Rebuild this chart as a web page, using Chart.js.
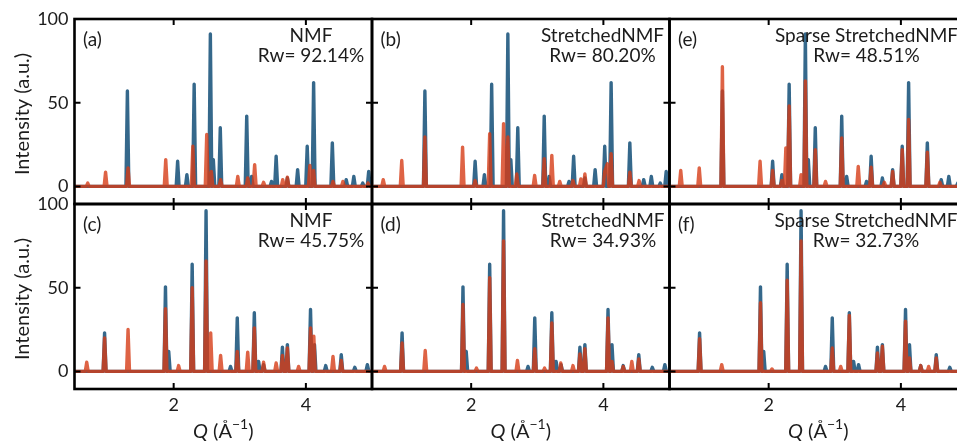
<!DOCTYPE html>
<html>
<head>
<meta charset="utf-8">
<script src="https://cdn.jsdelivr.net/npm/chart.js@4/dist/chart.umd.min.js"></script>
<style>
  html, body { margin: 0; padding: 0; background: #fff; width: 957px; height: 445px; overflow: hidden; }
  canvas { position: absolute; left: 0; top: 0; }
</style>
</head>
<body>
<script>
// ---- axis ranges and tick values ----
const qRange = [0.5, 5.0];
const intensityRange = [-10.5, 100];
const qTicks = [2, 4];
const intensityTicks = [0, 50, 100];

// ---- measured patterns: peak position Q (1/Å) and peak intensity (a.u.) ----
// target pattern, upper row
const targetUpper = [
  [1.30, 57], [2.06, 15], [2.20, 7], [2.31, 61], [2.555, 91], [2.60, 16], [2.705, 35],
  [3.105, 42], [3.18, 6], [3.48, 3], [3.55, 18], [3.72, 5], [3.875, 10], [4.02, 24],
  [4.117, 62], [4.40, 26], [4.61, 4], [4.725, 6], [4.86, 2], [4.95, 9]
];
// target pattern, lower row
const targetLower = [
  [0.955, 23], [1.876, 50.5], [1.925, 12], [2.28, 64], [2.49, 96], [2.86, 3], [2.962, 32],
  [3.22, 35], [3.285, 6], [3.36, 4], [3.645, 14.5], [3.72, 16], [4.07, 37], [4.13, 16],
  [4.30, 3.5], [4.535, 10], [4.74, 2.5], [4.93, 4]
];
// reconstructions
const fitA = [
  [0.70, 2], [0.97, 8.5], [1.31, 11], [1.88, 16], [2.29, 24], [2.50, 31], [2.57, 9],
  [2.71, 4], [2.97, 6], [3.12, 5], [3.225, 13], [3.36, 2.5], [3.65, 4], [3.72, 5.5],
  [4.06, 12.5], [4.117, 9.5], [4.41, 3], [4.56, 3], [4.94, 2]
];
const fitB = [
  [0.67, 4], [0.95, 15.5], [1.30, 29.5], [1.87, 23.5], [2.06, 3.5], [2.28, 31.5],
  [2.49, 37.5], [2.555, 29.5], [2.69, 7.5], [2.96, 6.5], [3.105, 16.5], [3.22, 18.5],
  [3.34, 3], [3.54, 3.5], [3.66, 4.5], [3.72, 7.5], [4.02, 9], [4.06, 13.5],
  [4.117, 19.5], [4.40, 8.5], [4.54, 3.5]
];
const fitE = [
  [0.67, 9.5], [0.95, 11], [1.30, 71.5], [1.87, 15], [2.06, 9.5], [2.20, 3.5], [2.26, 23],
  [2.31, 48], [2.49, 7], [2.555, 63], [2.705, 22], [2.86, 3], [3.105, 29], [3.355, 12],
  [3.55, 11.5], [3.75, 2.5], [3.875, 9], [4.02, 22], [4.117, 40], [4.40, 20.5], [4.59, 2.5]
];
const fitC = [
  [0.685, 5.5], [0.955, 20], [1.31, 25], [1.876, 37.5], [2.075, 3.5], [2.28, 50], [2.49, 66],
  [2.56, 23], [2.71, 9.5], [2.962, 12], [3.12, 11.5], [3.22, 26], [3.36, 5.5], [3.55, 5],
  [3.645, 9.5], [3.72, 14], [3.89, 3], [4.07, 26], [4.12, 21], [4.41, 9], [4.535, 6.5]
];
const fitD = [
  [0.69, 3], [0.955, 17], [1.305, 12.5], [1.876, 40], [2.08, 2], [2.28, 56], [2.49, 78],
  [2.70, 6.5], [2.962, 13.5], [3.11, 2], [3.22, 29], [3.355, 5], [3.54, 3.5], [3.645, 10.5],
  [3.72, 13.5], [4.07, 32], [4.13, 6], [4.30, 3], [4.43, 6], [4.535, 7.5]
];
const fitF = [
  [0.955, 19.5], [1.29, 4], [1.876, 41], [2.05, 1.5], [2.28, 54.5], [2.49, 78], [2.962, 14],
  [3.09, 3], [3.22, 33.5], [3.645, 11], [3.72, 15], [4.07, 30], [4.13, 8], [4.30, 3.5],
  [4.42, 3], [4.535, 8]
];

// ---- panel captions ----
const panelTags = ['(a)', '(b)', '(e)', '(c)', '(d)', '(f)'];
const methodNames = ['NMF', 'StretchedNMF', 'Sparse StretchedNMF', 'NMF', 'StretchedNMF', 'Sparse StretchedNMF'];
const rwValues = ['92.14', '80.20', '48.51', '45.75', '34.93', '32.73'];
const targets = [targetUpper, targetUpper, targetUpper, targetLower, targetLower, targetLower];
const fits = [fitA, fitB, fitE, fitC, fitD, fitF];

// ---- layout and style ----
const CANVAS_W = 1000, CANVAS_H = 445;
const colLeft = [74.5, 372, 669.5];
const colWidth = 297.5;
const rowTop = [19, 204];
const rowHeight = 185;
const captionCenter = [236.5, 230.5, 197, 236.5, 231, 196.5]; // caption centre, px from panel left
const PEAK_HALF_BASE = 0.022;
const BLUE = 'rgba(42, 96, 133, 0.95)';
const RED = 'rgba(214, 60, 22, 0.8)';
const INK = '#1c1c1c';
const FONT = 'Lato, "Open Sans", sans-serif';

// stroke path for a pattern: narrow peaks standing on the zero baseline
function peakPath(peaks) {
  const p = peaks.slice().sort((a, b) => a[0] - b[0]);
  const pts = [{ x: qRange[0] - 0.2, y: 0 }];
  p.forEach(([q, h], i) => {
    const prev = p[i - 1], next = p[i + 1];
    if (!prev || q - prev[0] > 2 * PEAK_HALF_BASE) pts.push({ x: q - PEAK_HALF_BASE, y: 0 });
    pts.push({ x: q, y: h });
    if (!next || next[0] - q > 2 * PEAK_HALF_BASE) pts.push({ x: q + PEAK_HALF_BASE, y: 0 });
  });
  pts.push({ x: qRange[1] + 0.2, y: 0 });
  return pts;
}

function drawXTitle(ctx, cx, baseline) {
  const parts = [
    { t: 'Q', f: 'italic 20px ' + FONT, dy: 0 },
    { t: ' (Å', f: '20px ' + FONT, dy: 0 },
    { t: '−1', f: '14px ' + FONT, dy: -9 },
    { t: ')', f: '20px ' + FONT, dy: 0 }
  ];
  let total = 0;
  parts.forEach(p => { ctx.font = p.f; p.w = ctx.measureText(p.t).width; total += p.w; });
  let x = cx - total / 2;
  ctx.textAlign = 'left';
  ctx.textBaseline = 'alphabetic';
  parts.forEach(p => { ctx.font = p.f; ctx.fillText(p.t, x, baseline + p.dy); x += p.w; });
}

function makePanel(i) {
  const row = Math.floor(i / 3), col = i % 3;
  const left = colLeft[col], top = rowTop[row];
  const right = left + colWidth, bottom = top + rowHeight;
  const isLeft = col === 0, isBottom = row === 1;

  const canvas = document.createElement('canvas');
  canvas.width = CANVAS_W;
  canvas.height = CANVAS_H;
  canvas.style.width = CANVAS_W + 'px';
  canvas.style.height = CANVAS_H + 'px';
  document.body.appendChild(canvas);

  const framePlugin = {
    id: 'panelFrame' + i,
    afterDraw(chart) {
      const { ctx, chartArea: a, scales } = chart;
      ctx.save();
      ctx.strokeStyle = '#000';
      ctx.lineWidth = 2.6;
      ctx.strokeRect(a.left, a.top, a.right - a.left, a.bottom - a.top);
      // inward ticks on all four sides
      ctx.lineWidth = 2;
      const TL = 6;
      ctx.beginPath();
      qTicks.forEach(v => {
        const x = scales.x.getPixelForValue(v);
        ctx.moveTo(x, a.top); ctx.lineTo(x, a.top + TL);
        ctx.moveTo(x, a.bottom); ctx.lineTo(x, a.bottom - TL);
      });
      intensityTicks.forEach(v => {
        const y = scales.y.getPixelForValue(v);
        ctx.moveTo(a.left, y); ctx.lineTo(a.left + TL, y);
        ctx.moveTo(a.right, y); ctx.lineTo(a.right - TL, y);
      });
      ctx.stroke();

      // captions
      ctx.fillStyle = INK;
      ctx.font = '19px ' + FONT;
      ctx.textAlign = 'left';
      ctx.textBaseline = 'alphabetic';
      ctx.fillText(panelTags[i], a.left + 8.5, a.top + 27);
      ctx.textAlign = 'center';
      const cx = a.left + captionCenter[i];
      ctx.fillText(methodNames[i], cx, a.top + 23);
      ctx.fillText('Rw= ' + rwValues[i] + '%', cx, a.top + 43);

      if (isLeft) {
        ctx.save();
        ctx.translate(29, (a.top + a.bottom) / 2 + 2.5);
        ctx.rotate(-Math.PI / 2);
        ctx.font = '20px ' + FONT;
        ctx.textAlign = 'center';
        ctx.textBaseline = 'alphabetic';
        ctx.fillText('Intensity (a.u.)', 0, 0);
        ctx.restore();
      }
      if (isBottom) {
        drawXTitle(ctx, (a.left + a.right) / 2, 438);
      }
      ctx.restore();
    }
  };

  const tickFont = { family: FONT, size: 18 };

  new Chart(canvas, {
    type: 'line',
    data: {
      datasets: [
        { label: 'fit', data: peakPath(fits[i]), borderColor: RED, borderWidth: 3.4, order: 0 },
        { label: 'target', data: peakPath(targets[i]), borderColor: BLUE, borderWidth: 3.4, order: 1 }
      ]
    },
    options: {
      responsive: false,
      animation: false,
      devicePixelRatio: 1,
      events: [],
      elements: {
        point: { radius: 0 },
        line: { tension: 0, borderJoinStyle: 'round', borderCapStyle: 'round', fill: false }
      },
      // the axis boxes fill the margins, so the plot area lands on the panel frame
      layout: { padding: { left: 0, top: top, right: CANVAS_W - right, bottom: 0 } },
      plugins: { legend: { display: false }, tooltip: { enabled: false }, title: { display: false } },
      scales: {
        x: {
          type: 'linear', position: 'bottom',
          min: qRange[0], max: qRange[1],
          grid: { display: false, drawTicks: false },
          border: { display: false },
          afterBuildTicks: s => { s.ticks = qTicks.map(v => ({ value: v })); },
          afterFit: s => { s.height = CANVAS_H - bottom; },
          ticks: { display: isBottom, padding: 5, font: tickFont, color: INK, maxRotation: 0, autoSkip: false,
                   callback: v => String(v) }
        },
        y: {
          type: 'linear', position: 'left',
          min: intensityRange[0], max: intensityRange[1],
          grid: { display: false, drawTicks: false },
          border: { display: false },
          afterBuildTicks: s => { s.ticks = intensityTicks.map(v => ({ value: v })); },
          afterFit: s => { s.width = left; },
          ticks: { display: isLeft, padding: 6, font: tickFont, color: INK, autoSkip: false,
                   callback: v => String(v) }
        }
      }
    },
    plugins: [framePlugin]
  });
}

for (let i = 0; i < 6; i++) makePanel(i);
</script>
</body>
</html>
